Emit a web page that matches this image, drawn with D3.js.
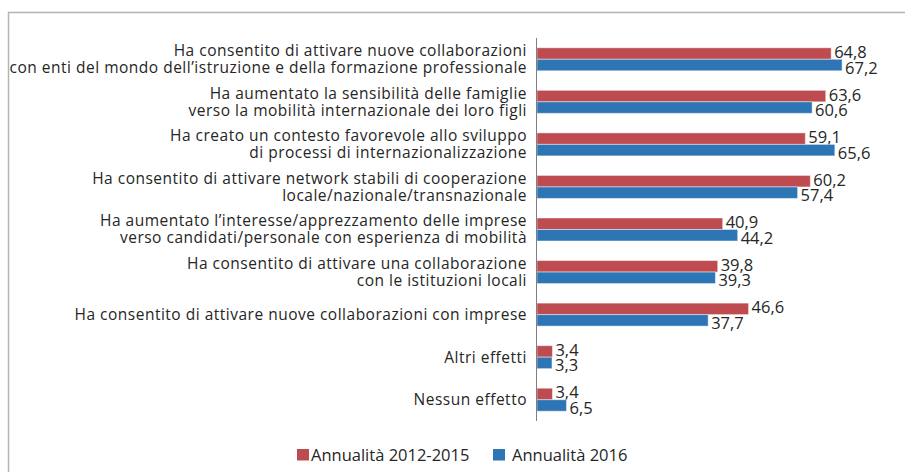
<!DOCTYPE html>
<html>
<head>
<meta charset="utf-8">
<script src="https://cdn.jsdelivr.net/npm/d3@7"></script>
<style>
  body { margin: 0; background: #fff; }
  svg { display: block; font-family: "Open Sans", sans-serif; }
</style>
</head>
<body>
<div id="chart"></div>
<script>
const width = 905;
const height = 472;

// categories, each one split in its two printed lines
const categories = [
    ["Ha consentito di attivare nuove collaborazioni", "con enti del mondo dell\u2019istruzione e della formazione professionale"],
    ["Ha aumentato la sensibilità delle famiglie", "verso la mobilità internazionale dei loro figli"],
    ["Ha creato un contesto favorevole allo sviluppo", "di processi di internazionalizzazione"],
    ["Ha consentito di attivare network stabili di cooperazione", "locale/nazionale/transnazionale"],
    ["Ha aumentato l\u2019interesse/apprezzamento delle imprese", "verso candidati/personale con esperienza di mobilità"],
    ["Ha consentito di attivare una collaborazione", "con le istituzioni locali"],
    ["Ha consentito di attivare nuove collaborazioni con imprese"],
    ["Altri effetti"],
    ["Nessun effetto"]
];
const seriesNames = ["Annualità 2012-2015", "Annualità 2016"];
const values2012 = [64.8, 63.6, 59.1, 60.2, 40.9, 39.8, 46.6, 3.4, 3.4];
const values2016 = [67.2, 60.6, 65.6, 57.4, 44.2, 39.3, 37.7, 3.3, 6.5];
const colors = ["#BE4B50", "#2E75B6"];

const series = [values2012, values2016];

const margin = { top: 38, bottom: 421, left: 537 };

const svg = d3.select("#chart").append("svg")
    .attr("width", width)
    .attr("height", height);

// frame around the chart area (only top and left visible)
svg.append("path")
    .attr("d", `M8.5,${height} V12.5 H${width}`)
    .attr("fill", "none")
    .attr("stroke", "#b4b4b4")
    .attr("stroke-width", 1.5);

const x = d3.scaleLinear()
    .domain([0, 80])
    .range([margin.left, margin.left + 80 * 4.54]);

const y = d3.scaleBand()
    .domain(d3.range(categories.length))
    .range([margin.top, margin.bottom])
    .paddingInner(0.46)
    .paddingOuter(0.23);

const ySub = d3.scaleBand()
    .domain([0, 1])
    .range([0, y.bandwidth()]);

// bars
series.forEach((vals, s) => {
    const g = svg.append("g");
    g.selectAll("rect")
        .data(vals)
        .enter()
        .append("rect")
        .attr("x", x(0))
        .attr("y", (d, i) => y(i) + ySub(s))
        .attr("width", d => x(d) - x(0))
        .attr("height", ySub.bandwidth())
        .attr("fill", colors[s])
        .attr("stroke", "#ffffff")
        .attr("stroke-opacity", 0.45)
        .attr("stroke-width", 1);

    // value labels: red one sits on its bar, blue one a bit lower
    g.selectAll("text")
        .data(vals)
        .enter()
        .append("text")
        .attr("x", d => x(d) + 3)
        .attr("y", (d, i) => y(i) + ySub(s) + ySub.bandwidth() / 2 + (s === 0 ? 4.5 : 8.5))
        .attr("font-size", 16.5)
        .attr("fill", "#262626")
        .text(d => d3.format(".1f")(d).replace(".", ","));
});

// vertical axis line
svg.append("line")
    .attr("x1", x(0) - 0.5)
    .attr("x2", x(0) - 0.5)
    .attr("y1", margin.top)
    .attr("y2", margin.bottom)
    .attr("stroke", "#7f7f7f")
    .attr("stroke-width", 1);

// category labels
const lineH = 17;
const labels = svg.append("g")
    .attr("text-anchor", "end")
    .attr("font-size", 15.5)
    .attr("letter-spacing", 0.5)
    .attr("fill", "#262626");

categories.forEach((lines, i) => {
    const cy = y(i) + y.bandwidth() / 2;
    const t = labels.append("text")
        .attr("y", cy - (lines.length - 1) * lineH / 2);
    lines.forEach((l, j) => {
        t.append("tspan")
            .attr("x", x(0) - 10)
            .attr("dy", j === 0 ? "0.35em" : lineH)
            .text(l);
    });
});

// legend
const legendX = [297, 493];
const legend = svg.append("g");
seriesNames.forEach((name, s) => {
    legend.append("rect")
        .attr("x", legendX[s])
        .attr("y", 449)
        .attr("width", 12)
        .attr("height", 11.5)
        .attr("fill", colors[s]);
    legend.append("text")
        .attr("x", legendX[s] + (s === 0 ? 14 : 19))
        .attr("y", 455)
        .attr("dy", "0.36em")
        .attr("font-size", 16.5)
        .attr("fill", "#262626")
        .text(name);
});
</script>
</body>
</html>
